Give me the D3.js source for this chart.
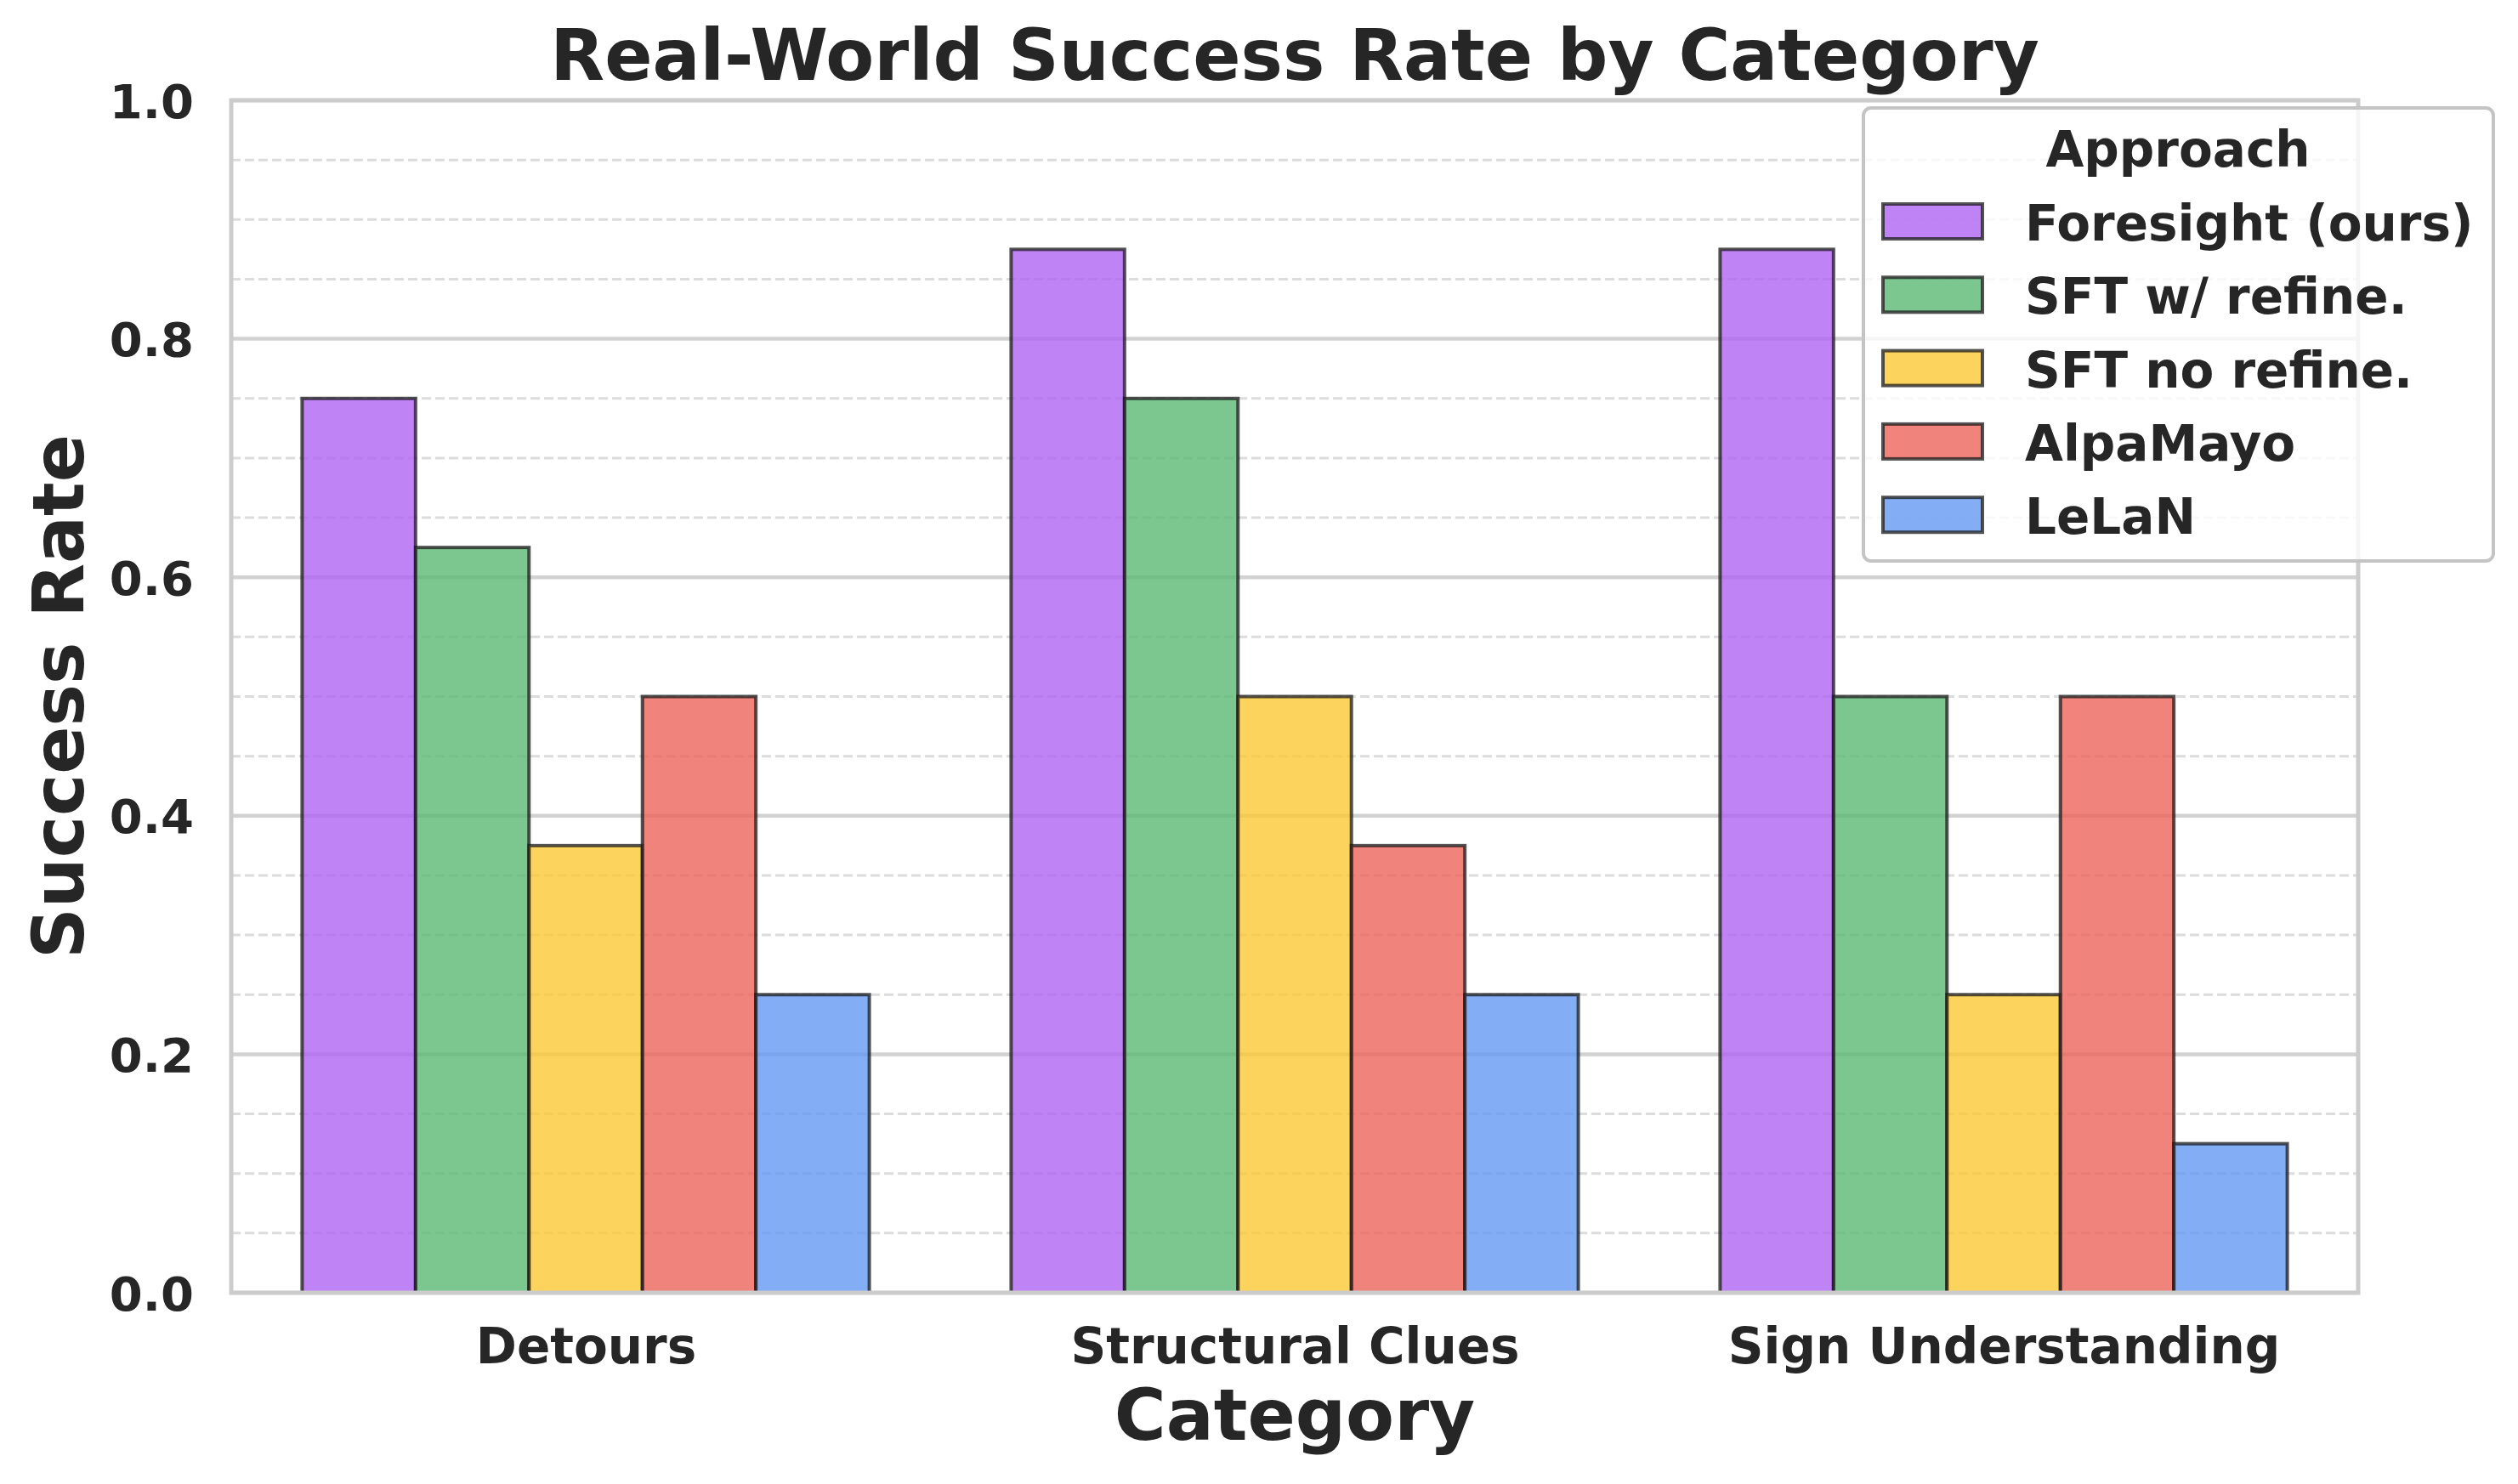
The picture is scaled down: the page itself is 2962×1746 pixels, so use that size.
<!DOCTYPE html>
<html>
<head>
<meta charset="utf-8">
<script src="https://cdn.jsdelivr.net/npm/d3@7"></script>
<style>
  body { margin: 0; background: #fff; }
  text { font-family: "DejaVu Sans", sans-serif; font-weight: bold; fill: #262626; }
</style>
</head>
<body>
<div id="chart"></div>
<script>
const categories = ["Detours", "Structural Clues", "Sign Understanding"];
const approaches = ["Foresight (ours)", "SFT w/ refine.", "SFT no refine.", "AlpaMayo", "LeLaN"];
const colors = ["#af64f2", "#5ab973", "#fac835", "#ec645a", "#649af2"];
const foresight = [0.75, 0.875, 0.875];
const sftRefine = [0.625, 0.75, 0.5];
const sftNoRefine = [0.375, 0.5, 0.25];
const alpaMayo = [0.5, 0.375, 0.5];
const lelan = [0.25, 0.25, 0.125];
const series = [foresight, sftRefine, sftNoRefine, alpaMayo, lelan];
const majorTicks = [0, 0.2, 0.4, 0.6, 0.8, 1.0];

const W = 2962, H = 1746;
const m = { left: 272, right: W - 2774, top: 118, bottom: H - 1521 };
const barW = 0.16;

const svg = d3.select("#chart").append("svg")
    .attr("width", W)
    .attr("height", H);

const x = d3.scaleLinear().domain([-0.5, 2.5]).range([m.left, W - m.right]);
const y = d3.scaleLinear().domain([0, 1]).range([H - m.bottom, m.top]);

// minor dashed grid
const minor = d3.range(0, 1.0001, 0.05).filter(v => Math.abs(v * 5 - Math.round(v * 5)) > 1e-6);
svg.append("g").selectAll("line")
    .data(minor)
    .enter().append("line")
    .attr("x1", m.left).attr("x2", W - m.right)
    .attr("y1", d => y(d)).attr("y2", d => y(d))
    .attr("stroke", "#dcdcdc")
    .attr("stroke-width", 3)
    .attr("stroke-dasharray", "11,5");

// major grid
svg.append("g").selectAll("line")
    .data(majorTicks)
    .enter().append("line")
    .attr("x1", m.left).attr("x2", W - m.right)
    .attr("y1", d => y(d)).attr("y2", d => y(d))
    .attr("stroke", "#d2d2d2")
    .attr("stroke-width", 4.5);

// bars
series.forEach((vals, j) => {
    svg.append("g").selectAll("rect")
        .data(vals)
        .enter().append("rect")
        .attr("x", (d, i) => x(i + (j - 2) * barW - barW / 2))
        .attr("y", d => y(d))
        .attr("width", x(barW) - x(0))
        .attr("height", d => y(0) - y(d))
        .attr("fill", colors[j])
        .attr("fill-opacity", 0.8)
        .attr("stroke", "#1a1a1a")
        .attr("stroke-opacity", 0.75)
        .attr("stroke-width", 4);
});

// spines
svg.append("rect")
    .attr("x", m.left).attr("y", m.top)
    .attr("width", W - m.left - m.right)
    .attr("height", H - m.top - m.bottom)
    .attr("fill", "none")
    .attr("stroke", "#cccccc")
    .attr("stroke-width", 5);

// axes
const yAxis = svg.append("g")
    .attr("transform", `translate(${m.left},0)`)
    .call(d3.axisLeft(y).tickValues(majorTicks).tickFormat(d3.format(".1f")).tickSize(0).tickPadding(44));
yAxis.select(".domain").remove();
yAxis.selectAll("text").style("font-size", "56px").attr("dy", "0.36em");

const xAxis = svg.append("g")
    .attr("transform", `translate(0,${H - m.bottom})`)
    .call(d3.axisBottom(x).tickValues([0, 1, 2]).tickFormat(i => categories[i]).tickSize(0).tickPadding(42));
xAxis.select(".domain").remove();
xAxis.selectAll("text").style("font-size", "58px");

// titles
svg.append("text")
    .attr("x", (m.left + W - m.right) / 2)
    .attr("y", 94)
    .attr("text-anchor", "middle")
    .style("font-size", "83px")
    .text("Real-World Success Rate by Category");

svg.append("text")
    .attr("x", (m.left + W - m.right) / 2)
    .attr("y", 1694)
    .attr("text-anchor", "middle")
    .style("font-size", "83px")
    .text("Category");

svg.append("text")
    .attr("transform", `translate(98,${(m.top + H - m.bottom) / 2}) rotate(-90)`)
    .attr("text-anchor", "middle")
    .style("font-size", "83px")
    .text("Success Rate");

// legend
const lg = svg.append("g").attr("transform", "translate(2192,127)");
lg.append("rect")
    .attr("width", 741).attr("height", 533)
    .attr("rx", 9)
    .attr("fill", "#fff")
    .attr("fill-opacity", 0.8)
    .attr("stroke", "#c4c4c4")
    .attr("stroke-width", 4);
lg.append("text")
    .attr("x", 370).attr("y", 69)
    .attr("text-anchor", "middle")
    .style("font-size", "58px")
    .text("Approach");
const items = lg.selectAll(".item")
    .data(approaches)
    .enter().append("g")
    .attr("class", "item")
    .attr("transform", (d, i) => `translate(0,${113 + i * 86.3})`);
items.append("rect")
    .attr("x", 23).attr("width", 117).attr("height", 41)
    .attr("fill", (d, i) => colors[i])
    .attr("fill-opacity", 0.8)
    .attr("stroke", "#1a1a1a")
    .attr("stroke-opacity", 0.75)
    .attr("stroke-width", 4);
items.append("text")
    .attr("x", 190).attr("y", 43)
    .style("font-size", "58px")
    .text(d => d);
</script>
</body>
</html>
